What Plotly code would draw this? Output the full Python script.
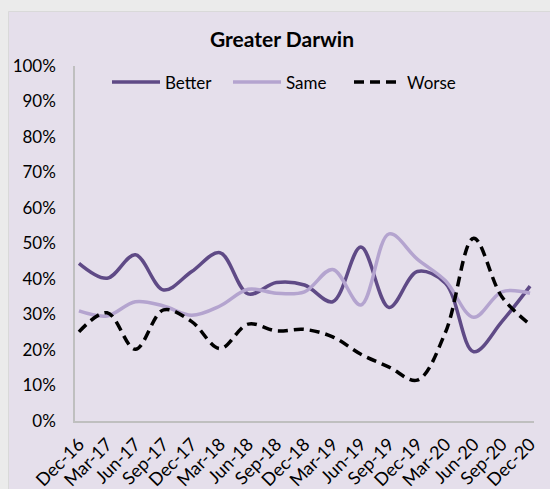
import plotly.graph_objects as go

quarters = ['Dec-16', 'Mar-17', 'Jun-17', 'Sep-17', 'Dec-17', 'Mar-18', 'Jun-18',
            'Sep-18', 'Dec-18', 'Mar-19', 'Jun-19', 'Sep-19', 'Dec-19', 'Mar-20',
            'Jun-20', 'Sep-20', 'Dec-20']
better = [0.444, 0.402, 0.468, 0.369, 0.421, 0.474, 0.358, 0.390, 0.383, 0.336,
          0.490, 0.320, 0.421, 0.388, 0.195, 0.280, 0.380]
same = [0.310, 0.296, 0.336, 0.324, 0.298, 0.324, 0.371, 0.360, 0.364, 0.427,
        0.327, 0.527, 0.456, 0.395, 0.292, 0.364, 0.360]
worse = [0.251, 0.305, 0.202, 0.313, 0.280, 0.204, 0.273, 0.254, 0.258, 0.237,
         0.188, 0.152, 0.115, 0.250, 0.515, 0.350, 0.272]

W, H = 550, 489
L, R, T, B = 75, 16, 66, 68
pw, ph = W - L - R, H - T - B

fig = go.Figure()

fig.add_trace(go.Scatter(x=quarters, y=better, name='Better', mode='lines',
                         line=dict(color='#5f4a86', width=3.5, shape='spline', smoothing=1)))
fig.add_trace(go.Scatter(x=quarters, y=same, name='Same', mode='lines',
                         line=dict(color='#b4a4cf', width=3.5, shape='spline', smoothing=1)))
fig.add_trace(go.Scatter(x=quarters, y=worse, name='Worse', mode='lines',
                         line=dict(color='#000000', width=3.5, dash='10px,6px',
                                   shape='spline', smoothing=1)))

# card behind the chart
fig.add_shape(type='rect', xref='paper', yref='paper', layer='below',
              x0=(8.5 - L) / pw, x1=(W + 5 - L) / pw,
              y0=-(H + 5 - T - ph) / ph, y1=(H - 11.5 - B) / ph,
              fillcolor='#e5dfeb', line=dict(color='#d9d9d9', width=1))

fig.update_layout(
    width=W, height=H,
    margin=dict(l=L, r=R, t=T, b=B, autoexpand=False),
    paper_bgcolor='#ebebeb',
    plot_bgcolor='rgba(0,0,0,0)',
    font=dict(family='Lato', size=17, color='#000000'),
    title=dict(text='<b>Greater Darwin</b>', x=282 / W, xref='container', xanchor='center',
               y=1 - 40 / H, yanchor='middle', font=dict(size=21)),
    legend=dict(orientation='h', x=(107 - L) / pw, y=0.954, xanchor='left', yanchor='middle',
                bgcolor='rgba(0,0,0,0)', font=dict(size=17), itemwidth=48, entrywidth=58),
    showlegend=True,
    xaxis=dict(type='category', range=[-0.14, 16.14], showline=True, linecolor='#bfbfbf',
               linewidth=1.5, showgrid=False, ticks='', tickangle=-45, automargin=False,
               tickfont=dict(size=18), ticklabelstandoff=4, zeroline=False, fixedrange=True),
    yaxis=dict(range=[0, 1], dtick=0.1, tickformat='.0%', showline=True, automargin=False,
               linecolor='#bfbfbf', linewidth=1.5, showgrid=False, ticks='',
               ticklabelstandoff=14, zeroline=False, fixedrange=True),
)

fig.write_html("out.html", config={'displayModeBar': False},
               post_script="document.body.style.margin='0';")
